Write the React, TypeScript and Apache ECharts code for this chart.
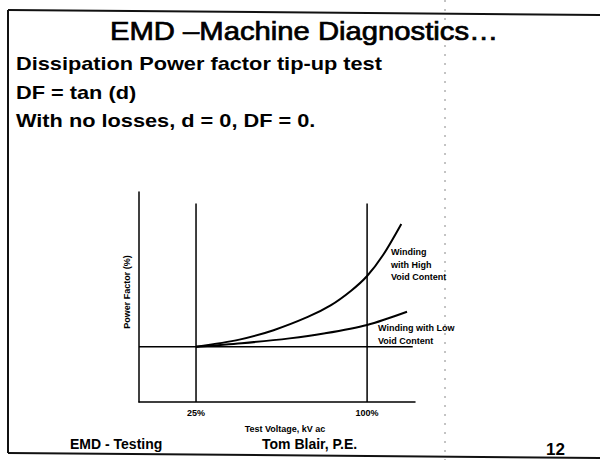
import React, { useEffect, useRef } from "react";
import * as echarts from "echarts";

// ---- slide texts ----
const slideTitle = "EMD –Machine Diagnostics…";
const bodyLines = [
  "Dissipation Power factor tip-up test",
  "DF = tan (d)",
  "With no losses, d = 0, DF = 0.",
];
const footerLeft = "EMD - Testing";
const footerCenter = "Tom Blair, P.E.";
const pageNumber = "12";

// ---- chart texts ----
const xAxisName = "Test Voltage, kV ac";
const yAxisName = "Power Factor (%)";
const xTickValues = [25, 100];
const highLabel = "Winding\nwith High\nVoid Content";
const lowLabel = "Winding with Low\nVoid Content";

// ---- chart values (arbitrary power-factor units) ----
const referenceLines = [25, 100];
const referenceTop = 9.45;
const baselineX = [0, 120];
const baselineLevel = 2.63;

const highX = [25, 44, 59, 74, 84, 93, 100, 107, 115];
const highY = [2.63, 2.97, 3.42, 4.05, 4.6, 5.3, 6.0, 7.0, 8.48];
const lowX = [25, 45, 66, 81, 100, 117.5];
const lowY = [2.63, 2.8, 3.03, 3.26, 3.67, 4.3];

const FONT = '"Liberation Sans", Arial, Helvetica, sans-serif';

function txt(
  text: string,
  x: number,
  y: number,
  fontSize: number,
  opts: {
    scaleX?: number;
    weight?: string;
    align?: string;
    vAlign?: string;
    lineHeight?: number;
    thicken?: number;
  } = {}
) {
  const align = opts.align || "left";
  const vAlign = opts.vAlign || "middle";
  const style: any = {
    text,
    x: 0,
    y: 0,
    fontSize,
    fontFamily: FONT,
    fontWeight: opts.weight || "normal",
    fill: "#000",
    align,
    verticalAlign: vAlign,
    textAlign: align,
    textVerticalAlign: vAlign,
    lineHeight: opts.lineHeight,
  };
  if (opts.thicken) {
    style.stroke = "#000";
    style.lineWidth = opts.thicken;
  }
  return {
    type: "text",
    x,
    y,
    scaleX: opts.scaleX || 1,
    silent: true,
    style,
  };
}

export default function App() {
  const ref = useRef<HTMLDivElement>(null);

  useEffect(() => {
    if (!ref.current) return;
    const chart = echarts.init(ref.current, null, { renderer: "svg" });

    const black = "#000";
    const series: any[] = [];

    series.push({
      type: "line",
      name: "baseline",
      data: baselineX.map((x) => [x, baselineLevel]),
      symbol: "none",
      lineStyle: { color: black, width: 1.6 },
      silent: true,
    });

    referenceLines.forEach((rx, i) => {
      series.push({
        type: "line",
        name: "ref" + i,
        data: [
          [rx, 0],
          [rx, referenceTop],
        ],
        symbol: "none",
        lineStyle: { color: black, width: 1.5 },
        silent: true,
      });
    });

    series.push({
      type: "line",
      name: "High Void Content",
      data: highX.map((x, i) => [x, highY[i]]),
      symbol: "none",
      smooth: 0.3,
      lineStyle: { color: black, width: 2 },
      silent: true,
    });
    series.push({
      type: "line",
      name: "Low Void Content",
      data: lowX.map((x, i) => [x, lowY[i]]),
      symbol: "none",
      smooth: 0.3,
      lineStyle: { color: black, width: 2 },
      silent: true,
    });

    const frame = { stroke: "#111", lineWidth: 2 };

    chart.setOption({
      animation: false,
      backgroundColor: "#fff",
      grid: { left: 139, top: 192, width: 276, height: 210, containLabel: false },
      xAxis: {
        type: "value",
        min: 0,
        max: 121,
        axisLine: { show: true, lineStyle: { color: black, width: 1.5 } },
        axisTick: { show: false },
        splitLine: { show: false },
        axisLabel: {
          customValues: xTickValues,
          formatter: "{value}%",
          color: black,
          fontSize: 9,
          fontWeight: "bold",
          fontFamily: FONT,
          margin: 6,
        },
        name: xAxisName,
        nameLocation: "middle",
        nameGap: 22,
        nameTextStyle: {
          color: black,
          fontSize: 9,
          fontWeight: "bold",
          fontFamily: FONT,
          padding: [0, 0, 0, 16],
        },
      },
      yAxis: {
        type: "value",
        min: 0,
        max: 10,
        axisLine: { show: true, lineStyle: { color: black, width: 1.5 } },
        axisTick: { show: false },
        axisLabel: { show: false },
        splitLine: { show: false },
        name: yAxisName,
        nameLocation: "middle",
        nameGap: 8,
        nameTextStyle: {
          color: black,
          fontSize: 9,
          fontWeight: "bold",
          fontFamily: FONT,
          padding: [0, 0, 0, 10],
        },
      },
      series,
      graphic: [
        // slide frame
        { type: "line", silent: true, shape: { x1: 8, y1: 10, x2: 8, y2: 453 }, style: frame },
        { type: "line", silent: true, shape: { x1: 8, y1: 10, x2: 600, y2: 15 }, style: frame },
        { type: "line", silent: true, shape: { x1: 8, y1: 453, x2: 600, y2: 458 }, style: frame },
        {
          type: "line",
          silent: true,
          shape: { x1: 445, y1: 0, x2: 445, y2: 460 },
          style: { stroke: "#888", lineWidth: 1, lineDash: [2, 7] },
        },
        // slide texts
        txt(slideTitle, 110, 31, 25, { scaleX: 1.17, thicken: 0.7 }),
        txt(bodyLines[0], 16, 63, 19, { scaleX: 1.145, weight: "bold" }),
        txt(bodyLines[1], 16, 92, 19, { scaleX: 1.145, weight: "bold" }),
        txt(bodyLines[2], 16, 120, 19, { scaleX: 1.145, weight: "bold" }),
        txt(footerLeft, 70, 444, 14, { weight: "bold" }),
        txt(footerCenter, 262, 444, 14, { weight: "bold" }),
        txt(pageNumber, 546, 449, 17, { weight: "bold" }),
        // chart annotations
        txt(highLabel, 391, 246, 9, { weight: "bold", vAlign: "top", lineHeight: 12.5 }),
        txt(lowLabel, 378, 321, 9, { weight: "bold", vAlign: "top", lineHeight: 13 }),
      ],
    });

    return () => chart.dispose();
  }, []);

  return (
    <div
      ref={ref}
      style={{ position: "fixed", left: 0, top: 0, width: 600, height: 460, background: "#fff" }}
    />
  );
}
